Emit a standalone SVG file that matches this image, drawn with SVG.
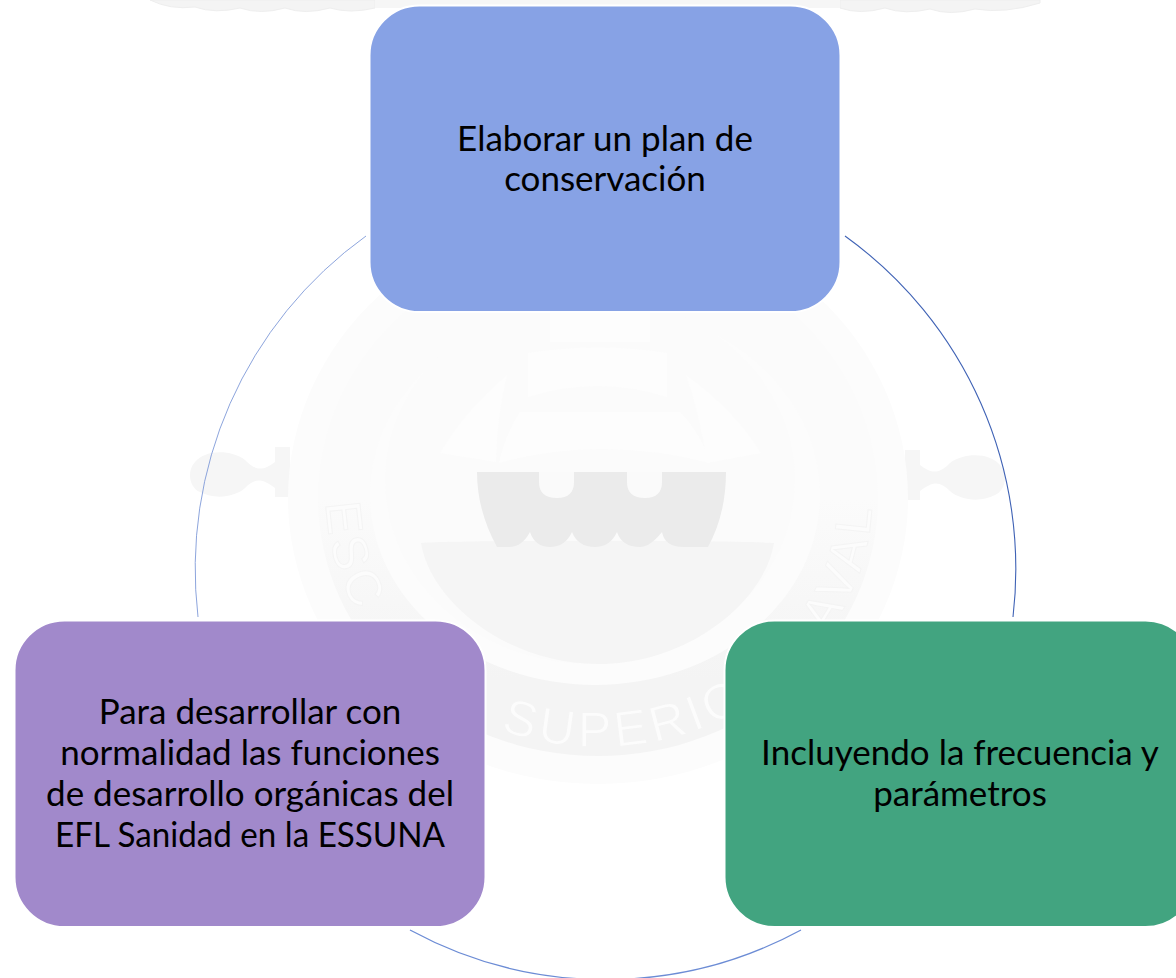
<svg xmlns="http://www.w3.org/2000/svg" width="1176" height="978" viewBox="0 0 1176 978">
  <style>
    .node { stroke: #ffffff; stroke-width: 2; }
    .label { font-family: "Lato", "Carlito", "Liberation Sans", sans-serif; font-size: 35px; fill: #000000; text-anchor: middle; }
    .arc { fill: none; }
    .wm { font-family: "Liberation Sans", Arial, sans-serif; font-size: 50px; letter-spacing: 5px; fill: #fcfcfc; stroke: #f4f4f4; stroke-width: 1; }
  </style>
  <defs>
    <path id="wmRing" d="M326 497 A273 250 0 0 0 872 497"/>
    <linearGradient id="ringFill" x1="0" y1="0" x2="0" y2="1">
      <stop offset="0.5" stop-color="#fbfbfb"/>
      <stop offset="0.85" stop-color="#f4f4f4"/>
    </linearGradient>
  </defs>
  <rect width="1176" height="978" fill="#ffffff"/>
  <g id="watermark">
    <path d="M150 0 Q170 10 195 7 Q215 14 240 8 Q260 15 285 8 Q305 15 330 8 Q350 14 375 8 V0 Z" fill="#f4f4f4" stroke="#eeeeee"/>
    <path d="M840 8 Q860 15 885 8 Q905 15 930 9 Q950 16 975 9 Q1005 14 1040 3 V0 H840 Z" fill="#f4f4f4" stroke="#eeeeee"/>
    <rect x="375" y="0" width="465" height="8" fill="#f6f6f6"/>
    <path d="M290 447 H275 V462 C262 472 255 470 245 460 C230 449 205 450 195 462 C186 472 190 488 200 492 C215 500 235 497 245 488 C255 478 262 478 275 488 V497 H290 Z" fill="#f6f6f6"/>
    <path d="M905 450 H920 V465 C933 475 940 473 950 463 C965 452 990 453 1000 465 C1009 475 1005 491 995 495 C980 503 960 500 950 491 C940 481 933 481 920 491 V500 H905 Z" fill="#f6f6f6"/>
    <ellipse cx="598" cy="498" rx="310" ry="286" fill="#fcfcfc"/>
    <ellipse cx="598" cy="498" rx="280" ry="258" fill="url(#ringFill)"/>
    <ellipse cx="595" cy="495" rx="225" ry="190" fill="#fcfcfc"/>
    <ellipse cx="590" cy="480" rx="205" ry="184" fill="#fbfbfb"/>
    <path d="M421 543 C470 540 730 540 774 543 C765 600 690 664 598 664 C505 664 430 600 421 543 Z" fill="#f5f5f5"/>
    <path d="M477 472 H726 C726 500 720 525 708 547 L686 547 Q665 548 662 532 Q650 547 640 547 Q622 547 617 532 Q610 547 595 547 Q578 547 572 532 Q565 547 550 547 Q535 547 530 532 Q522 547 509 547 L497 547 C485 525 477 500 477 472 Z" fill="#ebebeb"/>
    <path d="M539 472 H574 V482 Q574 498 557 498 Q539 498 539 482 Z M627 472 H662 V482 Q662 498 645 498 Q627 498 627 482 Z" fill="#fafafa"/>
    <path d="M528 353 Q598 342 667 353 L667 397 Q598 375 528 397 Z" fill="#fdfdfd"/>
    <path d="M520 412 H680 Q702 435 710 463 Q600 435 499 463 Q505 435 520 412 Z" fill="#fdfdfd"/>
    <path d="M507 375 Q465 410 440 453 L496 462 Q497 415 507 375 Z" fill="#fdfdfd"/>
    <path d="M686 375 Q735 410 761 453 L707 463 Q700 415 686 375 Z" fill="#fdfdfd"/>
    <rect x="550" y="312" width="100" height="30" fill="#fdfdfd"/>
    <text class="wm"><textPath href="#wmRing" startOffset="6">ESC</textPath></text>
    <text class="wm"><textPath href="#wmRing" startOffset="310">SUPERIO</textPath></text>
    <text class="wm" text-anchor="end"><textPath href="#wmRing" startOffset="815">AVAL</textPath></text>
  </g>
  <g id="connectors">
    <path class="arc" d="M845 236 A410 410 0 0 1 1013 617" stroke="#3f62b5" stroke-width="1.1"/>
    <path class="arc" d="M801 930 A410 410 0 0 1 410 930" stroke="#6c8cd5" stroke-width="1.3"/>
    <path class="arc" d="M198 617 A410 410 0 0 1 366 236" stroke="#7f9ad8" stroke-width="0.9"/>
  </g>
  <g id="node-plan">
    <rect class="node" x="369.500" y="5.500" width="471" height="306.500" rx="50" fill="#87a2e5"/>
    <text class="label" x="605" y="150.500">Elaborar un plan de</text>
    <text class="label" x="605" y="191">conservación</text>
  </g>
  <g id="node-frecuencia">
    <rect class="node" x="724.500" y="620.500" width="471" height="306.500" rx="50" fill="#42a480"/>
    <text class="label" x="960" y="765">Incluyendo la frecuencia y</text>
    <text class="label" x="960" y="806">parámetros</text>
  </g>
  <g id="node-desarrollar">
    <rect class="node" x="14.500" y="620.500" width="471" height="306.500" rx="50" fill="#a189cb"/>
    <text class="label" x="250" y="724">Para desarrollar con</text>
    <text class="label" x="250" y="765">normalidad las funciones</text>
    <text class="label" x="250" y="806">de desarrollo orgánicas del</text>
    <text class="label" x="250" y="847" textLength="390" lengthAdjust="spacingAndGlyphs">EFL Sanidad en la ESSUNA</text>
  </g>
</svg>
